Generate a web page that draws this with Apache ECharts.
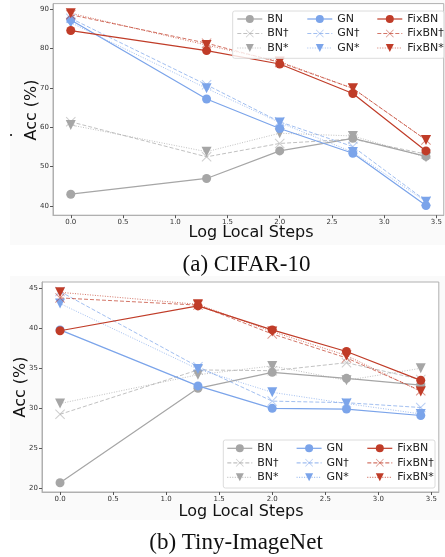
<!DOCTYPE html>
<html>
<head>
<meta charset="utf-8">
<script src="https://cdn.jsdelivr.net/npm/echarts@6/dist/echarts.min.js"></script>
<style>
html,body{margin:0;padding:0;background:#fff;}
#chart{width:445px;height:557px;}
</style>
</head>
<body>
<div id="chart"></div>
<script>
// ---- data ----
const steps = [0, 1.3, 2.0, 2.7, 3.4];
const xTicks = [0, 0.5, 1.0, 1.5, 2.0, 2.5, 3.0, 3.5];
const yTicksCifar = [40, 50, 60, 70, 80, 90];
const yTicksTiny = [20, 25, 30, 35, 40, 45];
const seriesNames = ['BN', 'BN†', 'BN*', 'GN', 'GN†', 'GN*', 'FixBN', 'FixBN†', 'FixBN*'];

// CIFAR-10
const cifarBN      = [43.0, 47.0, 54.0, 57.2, 52.6];
const cifarBNd     = [61.4, 52.5, 55.9, 57.0, 53.2];
const cifarBNs     = [60.6, 53.8, 58.5, 57.8, 52.4];
const cifarGN      = [87.3, 67.2, 59.7, 53.4, 40.1];
const cifarGNd     = [87.7, 70.8, 61.4, 55.1, 41.3];
const cifarGNs     = [86.6, 69.9, 61.2, 53.7, 41.1];
const cifarFix     = [84.6, 79.5, 76.1, 68.6, 54.0];
const cifarFixd    = [88.6, 81.4, 76.5, 69.9, 56.8];
const cifarFixs    = [89.0, 80.9, 76.7, 69.9, 56.8];

// Tiny-ImageNet
const tinyBN       = [20.7, 32.5, 34.5, 33.75, 32.9];
const tinyBNd      = [29.25, 34.8, 34.7, 35.7, 33.6];
const tinyBNs      = [30.6, 34.2, 35.3, 33.5, 35.0];
const tinyGN       = [39.8, 32.8, 30.0, 29.9, 29.1];
const tinyGNd      = [44.6, 35.2, 30.9, 30.7, 30.1];
const tinyGNs      = [43.1, 34.9, 32.0, 30.6, 29.3];
const tinyFix      = [39.7, 42.8, 39.8, 37.1, 33.5];
const tinyFixd     = [43.8, 42.9, 39.3, 36.3, 32.2];
const tinyFixs     = [44.5, 43.0, 39.6, 36.6, 32.1];

const cifarAll = [cifarBN, cifarBNd, cifarBNs, cifarGN, cifarGNd, cifarGNs, cifarFix, cifarFixd, cifarFixs];
const tinyAll  = [tinyBN, tinyBNd, tinyBNs, tinyGN, tinyGNd, tinyGNs, tinyFix, tinyFixd, tinyFixs];

// ---- styles ----
const COLORS = ['#a6a6a6', '#7ba4ea', '#c03c28'];
const X_PATH = 'path://M0,0.7 L0.7,0 L5,4.3 L9.3,0 L10,0.7 L5.7,5 L10,9.3 L9.3,10 L5,5.7 L0.7,10 L0,9.3 L4.3,5 Z';
const TRI_DOWN = 'path://M0,0 L10,0 L5,9 Z';
const FONT = 'DejaVu Sans';

function makeSeries(values, idx, grid) {
  const group = Math.floor(idx / 3);
  const variant = idx % 3;
  const color = COLORS[group];
  const s = {
    name: seriesNames[idx],
    type: 'line',
    xAxisIndex: grid,
    yAxisIndex: grid,
    data: steps.map((x, i) => [x, values[i]]),
    color: color,
    animation: false,
    z: 2 + idx * 0.1,
    emphasis: {disabled: true}
  };
  if (variant === 0) {
    s.symbol = 'circle'; s.symbolSize = 9;
    s.lineStyle = {width: 1.2, type: 'solid', color: color};
    s.itemStyle = {color: color};
  } else if (variant === 1) {
    s.symbol = X_PATH; s.symbolSize = 10;
    s.lineStyle = {width: 1, type: [4, 2], color: color, opacity: 0.7};
    s.itemStyle = {color: color, opacity: 0.55};
  } else {
    s.symbol = TRI_DOWN; s.symbolSize = 10;
    s.lineStyle = {width: 1, type: [1, 1.5], color: color, opacity: 0.7};
    s.itemStyle = {color: color};
  }
  return s;
}

const series = [];
cifarAll.forEach((v, i) => series.push(makeSeries(v, i, 0)));
tinyAll.forEach((v, i) => series.push(makeSeries(v, i, 1)));

function xAxisCfg(grid) {
  return {
    type: 'value', gridIndex: grid, min: -0.17, max: 3.57,
    axisLine: {show: true, onZero: false, lineStyle: {color: '#b0b0b0', width: 1}},
    axisTick: {show: true, customValues: xTicks, length: 3, lineStyle: {color: '#555'}},
    axisLabel: {customValues: xTicks, formatter: v => v.toFixed(1), fontSize: 7, color: '#333', fontFamily: FONT, margin: grid === 0 ? 3 : 4},
    splitLine: {show: false}
  };
}
function yAxisCfg(grid, min, max, ticks) {
  return {
    type: 'value', gridIndex: grid, min: min, max: max,
    axisLine: {show: true, onZero: false, lineStyle: {color: '#b0b0b0', width: 1}},
    axisTick: {show: true, customValues: ticks, length: 3, lineStyle: {color: '#555'}},
    axisLabel: {customValues: ticks, fontSize: 7, color: '#333', fontFamily: FONT, margin: 4},
    splitLine: {show: false}
  };
}

function legendCol(names, left, top) {
  return {
    data: names, orient: 'vertical', left: left, top: top, padding: 0,
    itemWidth: 25, itemHeight: 10, itemGap: 3.5,
    textStyle: {fontSize: 11, color: '#222', fontFamily: FONT, lineHeight: 11},
    lineStyle: {width: 1.2},
    selectedMode: false
  };
}

const legends = [
  legendCol(seriesNames.slice(0, 3), 236.7, 13.5),
  legendCol(seriesNames.slice(3, 6), 306.7, 13.5),
  legendCol(seriesNames.slice(6, 9), 376.7, 13.5),
  legendCol(seriesNames.slice(0, 3), 226.7, 442.8),
  legendCol(seriesNames.slice(3, 6), 296, 442.8),
  legendCol(seriesNames.slice(6, 9), 366.7, 442.8)
];

const chart = echarts.init(document.getElementById('chart'), null, {renderer: 'canvas'});
chart.setOption({
  backgroundColor: '#ffffff',
  animation: false,
  grid: [
    {left: 53, top: 3.6, width: 396.8, height: 211.6, show: true, borderColor: '#b0b0b0', borderWidth: 1, backgroundColor: '#ffffff', containLabel: false},
    {left: 42, top: 282, width: 396.8, height: 210, show: true, borderColor: '#b0b0b0', borderWidth: 1, backgroundColor: '#ffffff', containLabel: false}
  ],
  xAxis: [xAxisCfg(0), xAxisCfg(1)],
  yAxis: [yAxisCfg(0, 37.66, 91.45, yTicksCifar), yAxisCfg(1, 19.54, 45.79, yTicksTiny)],
  legend: legends,
  series: series,
  graphic: [
    {type: 'rect', z: -10, shape: {x: 10, y: 0, width: 435, height: 245}, style: {fill: '#fafafa'}, silent: true},
    {type: 'rect', z: -10, shape: {x: 10, y: 276, width: 435, height: 244}, style: {fill: '#fafafa'}, silent: true},
    {type: 'rect', z: 3, shape: {x: 232.7, y: 11, width: 211.3, height: 47.3, r: 2}, style: {fill: 'rgba(255,255,255,0.8)', stroke: '#dcdcdc', lineWidth: 1}, silent: true},
    {type: 'rect', z: 3, shape: {x: 223.3, y: 440, width: 211.7, height: 48, r: 2}, style: {fill: 'rgba(255,255,255,0.8)', stroke: '#dcdcdc', lineWidth: 1}, silent: true},
    {type: 'text', x: 32, y: 110, rotation: Math.PI / 2, style: {text: 'Acc (%)', fontSize: 16, fontFamily: FONT, fill: '#111', align: 'center', verticalAlign: 'middle'}},
    {type: 'text', x: 21, y: 387, rotation: Math.PI / 2, style: {text: 'Acc (%)', fontSize: 16, fontFamily: FONT, fill: '#111', align: 'center', verticalAlign: 'middle'}},
    {type: 'text', x: 11, y: 140, style: {text: '.', fontSize: 16, fontFamily: FONT, fill: '#111', align: 'center', verticalAlign: 'bottom'}},
    {type: 'text', x: 251, y: 233, style: {text: 'Log Local Steps', fontSize: 16, fontFamily: FONT, fill: '#111', align: 'center', verticalAlign: 'middle'}},
    {type: 'text', x: 241, y: 512, style: {text: 'Log Local Steps', fontSize: 16, fontFamily: FONT, fill: '#111', align: 'center', verticalAlign: 'middle'}},
    {type: 'text', x: 246.5, y: 265, style: {text: '(a) CIFAR-10', fontSize: 23, fontFamily: 'Liberation Serif', fill: '#111', align: 'center', verticalAlign: 'middle'}},
    {type: 'text', x: 236, y: 543, style: {text: '(b) Tiny-ImageNet', fontSize: 23, fontFamily: 'Liberation Serif', fill: '#111', align: 'center', verticalAlign: 'middle'}}
  ]
});
</script>
</body>
</html>
